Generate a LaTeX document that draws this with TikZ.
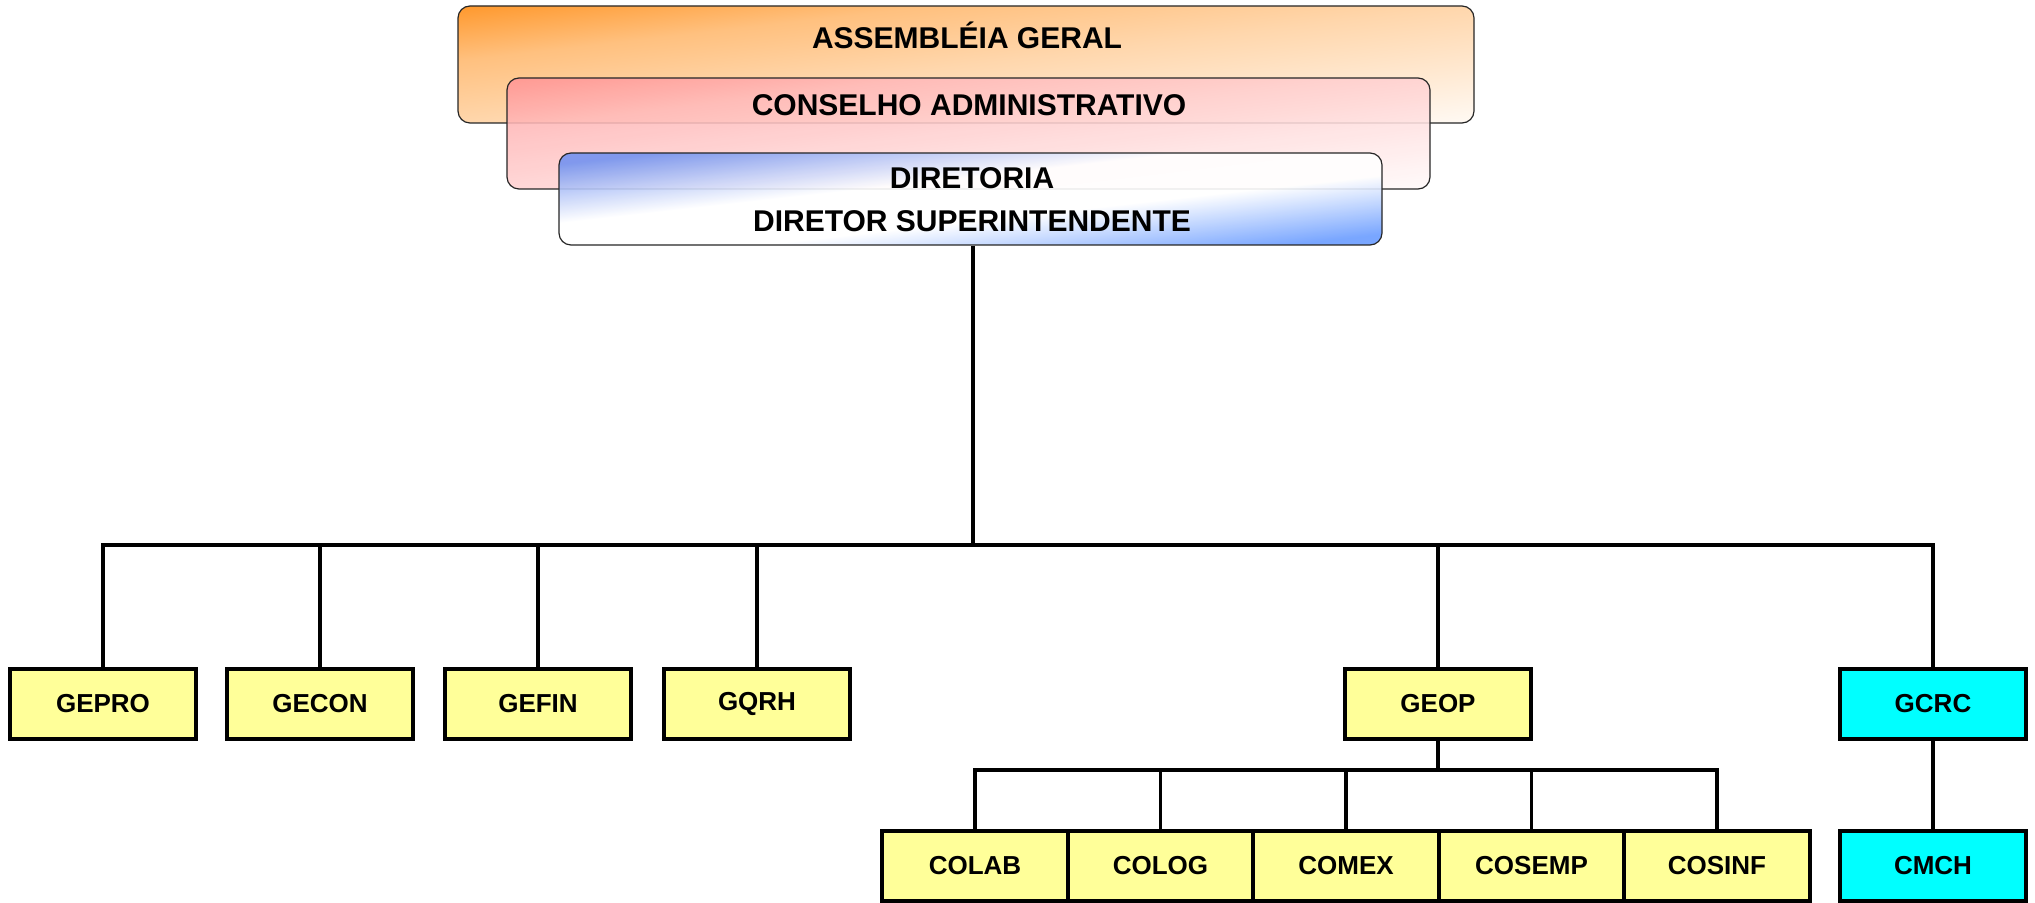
\documentclass[tikz,border=0pt]{standalone}
\usepackage{fontspec}
\setmainfont{Liberation Sans}
\usetikzlibrary{calc}
\definecolor{boxyellow}{HTML}{FFFF99}
\definecolor{boxcyan}{HTML}{00FFFF}
\definecolor{agorange}{HTML}{FF9A30}
\definecolor{capink}{HTML}{FF9494}
\definecolor{dirblue}{HTML}{5A80EE}
\definecolor{dirblueB}{HTML}{6A9CFF}
\pgfdeclareverticalshading{agshade}{100bp}{color(0bp)=(agorange!4!white); color(28bp)=(agorange!6!white);
  color(38bp)=(agorange!22!white); color(50bp)=(agorange!40!white); color(62bp)=(agorange!62!white);
  color(72bp)=(agorange); color(100bp)=(agorange)}
\pgfdeclareverticalshading{cashade}{100bp}{color(0bp)=(capink!3!white); color(28bp)=(capink!5!white);
  color(38bp)=(capink!22!white); color(50bp)=(capink!42!white); color(62bp)=(capink!65!white);
  color(72bp)=(capink); color(100bp)=(capink)}
\pgfdeclareverticalshading{dirshade}{100bp}{color(0bp)=(dirblueB); color(28bp)=(dirblueB);
  color(44bp)=(white); color(56bp)=(white); color(72bp)=(dirblue!85!white); color(100bp)=(dirblue!85!white)}
\begin{document}
\begin{tikzpicture}[x=0.5pt,y=-0.5pt]
\useasboundingbox (0,0) rectangle (2035,903);
\tikzset{
  unitbox/.style={draw=black, line width=2pt, inner sep=0pt,
    minimum width=93pt, minimum height=35pt, font=\fontsize{13}{15}\selectfont\bfseries},
  yel/.style={unitbox, fill=boxyellow},
  cya/.style={unitbox, fill=boxcyan},
  topbox/.style={draw=black!85, line width=0.6pt, rounded corners=6pt, inner sep=0pt},
  gradfill/.style n args={4}{path picture={
    \begin{scope}[transform canvas={rotate around={#2:(path picture bounding box.center)}}]
      \shade[shading=#1, fill opacity=#4]
        ($(path picture bounding box.center)+(-700,-#3)$) rectangle
        ($(path picture bounding box.center)+(700,#3)$);
    \end{scope}}},
  toptext/.style={font=\fontsize{15}{17}\selectfont\bfseries, inner sep=0pt},
  bus/.style={line width=2.2pt},
  drop/.style={line width=1.8pt}
}
% top boxes
\node[topbox, minimum width=508pt, minimum height=58.5pt,
      gradfill={agshade}{6.6}{130}{1}] (ag) at (966,64.5) {};
\node[toptext] (agt) at (967,35) {ASSEMBLÉIA GERAL};
\node[topbox, minimum width=461.5pt, minimum height=55.5pt,
      gradfill={cashade}{6.9}{125}{0.88}] (ca) at (968.5,133.5) {};
\node[toptext] (cat) at (969,105) {CONSELHO ADMINISTRATIVO};
\node[topbox, minimum width=411.5pt, minimum height=46pt,
      gradfill={dirshade}{6.4}{92}{0.9}] (dir) at (970.5,199) {};
\node[toptext] (dirt1) at (972,178) {DIRETORIA};
\node[toptext] (dirt2) at (972,221) {DIRETOR SUPERINTENDENTE};

% first level
\node[yel] (gepro) at (103,704) {GEPRO};
\node[yel] (gecon) at (320,704) {GECON};
\node[yel] (gefin) at (538,704) {GEFIN};
\node[yel] (gqrh)  at (757,704) {GQRH};
\node[yel] (geop)  at (1438,704) {GEOP};
\node[cya] (gcrc)  at (1933,704) {GCRC};

% second level
\node[yel] (colab)  at (975,866) {COLAB};
\node[yel] (colog)  at (1160.5,866) {COLOG};
\node[yel] (comex)  at (1346,866) {COMEX};
\node[yel] (cosemp) at (1531.5,866) {COSEMP};
\node[yel] (cosinf) at (1717,866) {COSINF};
\node[cya] (cmch)   at (1933,866) {CMCH};

% main bus
\coordinate (busL) at (103,545);
\coordinate (busR) at (1933,545);
\coordinate (busM) at (973,545);
\draw[drop] (dir.south -| busM) -- (busM);
\draw[bus] ([xshift=-1pt]busL) -- ([xshift=1pt]busR);
\foreach \n in {gepro,gecon,gefin,gqrh,geop,gcrc}
  \draw[drop] (\n.north) -- (\n.north |- busL);

% GEOP sub-bus
\coordinate (subL) at (975,770);
\coordinate (subR) at (1717,770);
\draw[drop] (geop.south) -- (geop.south |- subL);
\draw[bus] ([xshift=-1pt]subL) -- ([xshift=1pt]subR);
\foreach \n in {colab,colog,comex,cosemp,cosinf}
  \draw[drop] (\n.north) -- (\n.north |- subL);

% GCRC to CMCH
\draw[drop] (gcrc.south) -- (cmch.north);
\end{tikzpicture}
\end{document}
